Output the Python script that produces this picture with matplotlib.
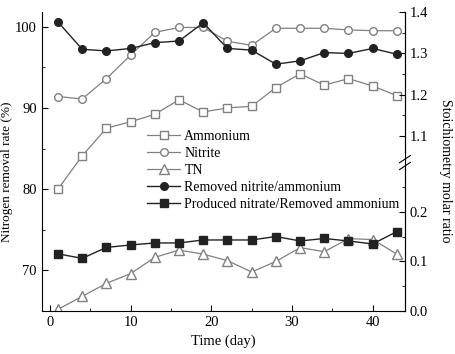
import numpy as np
import matplotlib
matplotlib.use("Agg")
import matplotlib.pyplot as plt
from matplotlib.ticker import MultipleLocator, FixedLocator

plt.rcParams['font.family'] = ['Liberation Serif', 'DejaVu Serif']

# data
days = [1, 4, 7, 10, 13, 16, 19, 22, 25, 28, 31, 34, 37, 40, 43]
ammonium = [80.0, 84.1, 87.5, 88.3, 89.2, 91.0, 89.5, 90.0, 90.2, 92.5, 94.2, 92.8, 93.6, 92.7, 91.5]
nitrite = [91.4, 91.1, 93.6, 96.5, 99.3, 99.9, 99.9, 98.2, 97.7, 99.8, 99.8, 99.8, 99.6, 99.5, 99.5]
tn = [65.2, 66.8, 68.4, 69.6, 71.6, 72.5, 72.0, 71.2, 69.8, 71.1, 72.8, 72.3, 73.9, 73.8, 72.0]
nitrite_ammonium = [1.376, 1.310, 1.306, 1.312, 1.326, 1.330, 1.374, 1.312, 1.308, 1.274, 1.282, 1.302,
                    1.300, 1.312, 1.298]
nitrate_ammonium = [0.115, 0.106, 0.128, 0.133, 0.137, 0.137, 0.143, 0.143, 0.143, 0.150, 0.141, 0.146,
                    0.141, 0.135, 0.160]

# broken right axis: 0-0.3 on the lower half, 1.04-1.4 on the upper half
brk_v = [-10, 0, 0.3, 1.04, 1.4, 10]
brk_p = [-4966, 0, 149, 150, 299, 299 + 8.6 * 413.9]


def fwd(y):
    return np.interp(y, brk_v, brk_p)


def inv(p):
    return np.interp(p, brk_p, brk_v)


fig = plt.figure(figsize=(4.55, 3.54), dpi=100)
ax = fig.add_axes([0.092, 0.1215, 0.798, 0.8445])
ax2 = ax.twinx()

gray = '#808080'
ms = 5.5
l1, = ax.plot(days, ammonium, '-s', color=gray, mfc='white', mec=gray, ms=ms, lw=0.9, label='Ammonium')
l2, = ax.plot(days, nitrite, '-o', color=gray, mfc='white', mec=gray, ms=ms, lw=0.9, label='Nitrite')
l3, = ax.plot(days, tn, '-^', color=gray, mfc='white', mec=gray, ms=ms + 1, lw=0.9, label='TN')

ax2.set_yscale('function', functions=(fwd, inv))
l4, = ax2.plot(days, nitrite_ammonium, '-o', color='#222222', ms=ms, lw=1.0, label='Removed nitrite/ammonium')
l5, = ax2.plot(days, nitrate_ammonium, '-s', color='#222222', ms=ms, lw=1.0,
               label='Produced nitrate/Removed ammonium')

ax.set_xlim(-1, 44)
ax.set_ylim(65, 101.8)
ax2.set_ylim(0, 1.4)

ax.xaxis.set_major_locator(MultipleLocator(10))
ax.xaxis.set_minor_locator(MultipleLocator(5))
ax.yaxis.set_major_locator(MultipleLocator(10))
ax.yaxis.set_minor_locator(MultipleLocator(5))
ax2.yaxis.set_major_locator(FixedLocator([0, 0.1, 0.2, 1.1, 1.2, 1.3, 1.4]))
ax2.yaxis.set_minor_locator(FixedLocator([0.05, 0.15, 0.25, 1.15, 1.25, 1.35]))
ax2.yaxis.set_major_formatter(plt.FuncFormatter(lambda v, p: f'{v:.1f}'))

for a in (ax, ax2):
    a.tick_params(which='both', direction='in', labelsize=10.5)
    a.tick_params(which='major', length=4)
    a.tick_params(which='minor', length=2.5)
    a.spines['top'].set_visible(False)
ax.tick_params(axis='y', right=False)
ax2.spines['right'].set_visible(False)
ax2.spines['left'].set_visible(False)
ax2.spines['bottom'].set_visible(False)

# right spine with a break
tr = ax2.get_yaxis_transform()
ax2.plot([1, 1], [0, 0.29], transform=tr, color='black', lw=0.8, clip_on=False)
ax2.plot([1, 1], [1.06, 1.4], transform=tr, color='black', lw=0.8, clip_on=False)
for yb in (0.485, 0.508):
    ax2.plot([0.985, 1.015], [yb - 0.012, yb + 0.012], transform=ax2.transAxes, color='black',
             lw=0.8, clip_on=False)

ax.set_xlabel('Time (day)', fontsize=10.5, labelpad=4)
ax.set_ylabel('Nitrogen removal rate (%)', fontsize=9.5, va='center')
ax.yaxis.set_label_coords(-0.096, 0.465)
ax2.set_ylabel('Stoichiometry molar ratio', fontsize=10, rotation=270, va='center')
ax2.yaxis.set_label_coords(1.113, 0.47)

ax2.legend(handles=[l1, l2, l3, l4, l5], loc='upper left', bbox_to_anchor=(0.27, 0.63), frameon=False,
           fontsize=10, handlelength=2.4, handletextpad=0.3, labelspacing=0.3, borderpad=0)

fig.savefig('out.png', dpi=100)
